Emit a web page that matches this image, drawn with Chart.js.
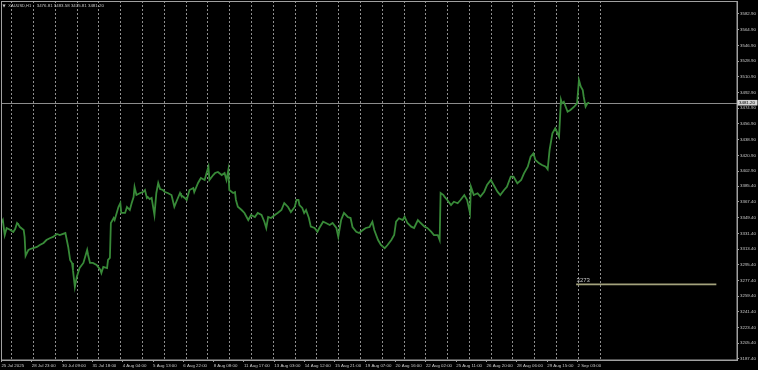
<!DOCTYPE html>
<html><head><meta charset="utf-8">
<script src="https://cdn.jsdelivr.net/npm/chart.js@4.4.1/dist/chart.umd.min.js"></script>
<style>html,body{margin:0;padding:0;background:#000;overflow:hidden}canvas{display:block}</style>
</head><body>
<canvas id="c" width="758" height="370"></canvas>
<script>
// ---- data ----
const symbolTitle = 'XAUUSD,H1';
const lastBarOHLC = ['3476.81', '3483.58', '3475.81', '3481.20'];
const timeLabels = ['25 Jul 2025','28 Jul 23:00','30 Jul 09:00','31 Jul 18:00','4 Aug 04:00','5 Aug 13:00','6 Aug 22:00','8 Aug 08:00','11 Aug 17:00','13 Aug 03:00','14 Aug 12:00','15 Aug 21:00','19 Aug 07:00','20 Aug 16:00','22 Aug 02:00','25 Aug 11:00','26 Aug 20:00','28 Aug 06:00','29 Aug 15:00','2 Sep 03:00'];
const priceTicks = [3582.90,3564.90,3546.90,3528.90,3510.90,3492.90,3474.90,3456.90,3438.90,3420.90,3402.90,3385.40,3367.40,3349.40,3331.40,3313.40,3295.40,3277.40,3259.40,3241.40,3223.40,3205.40,3187.40];
// hourly bar index (from first bar) of each sampled close
const barIndex = [
  0,2,3,5,7,11,14,16,18,19, 21,25,26,27,30,32,35,39,42,46, 49,53,56,60,63,69,72,74,76,77,
  79,81,84,88,92,93,95,98,102,106, 107,109,113,114,116,117,120,121,125,127, 128,132,134,137,139,141,142,144,148,151,
  153,155,156,
  158,160,163,165,167,169,172,174,177,181, 184,186,190,191,195,197,200,204,205,209,
  212,216,218,220,221,225,227,230,234,237, 239,241,242,246,248,249,251,255,258,262,
  265,269,272,276,279,281,283,286,290,293, 297,300,304,307,311,313,
  315,316,319,321,323,326,328,332,335,337, 341,344,348,351,355,357,360,363,367,370,
  372,376,379,383,386,390,393,395,399,402, 406,409,413,416,418,421,425,427,430,434,
  437,441,444,448,451,455,458,462,464,465, 468,
  469,472,476,479,483,486,490,493,496,497, 500,504,507,511,514,518,521,525,528,532,
  535,539,542,546,550,553,557,560,563,565, 569,572,576,578,580,583,586,590,592,593,
  595,599,602,606,609,611,613,615,616,618, 620,622
];
const closePrices = [
  3343.3,3344.5,3346.7,3329.5,3337.6,3335.3,3333.0,3336.4,3343.3,3342.1, 3338.7,3335.3,3327.3,3305.5,3312.4,3313.5,3314.6,3315.8,3318.1,3320.4, 3323.8,3326.1,3327.3,3330.7,3329.5,3331.8,3315.8,3300.9,3297.5,3289.4,
  3269.9,3281.4,3291.7,3297.5,3312.4,3306.6,3297.5,3297.5,3295.2,3289.4, 3286.0,3292.9,3291.7,3300.9,3303.2,3343.3,3349.0,3346.7,3361.7,3366.2, 3354.8,3354.8,3361.7,3358.2,3366.2,3373.1,3384.6,3375.4,3377.7,3378.8,
  3381.1,3372.0,3373.1,
  3370.8,3372.0,3352.5,3377.7,3389.2,3382.3,3381.1,3378.8,3377.7,3375.4, 3362.0,3367.4,3377.7,3375.4,3372.0,3369.7,3381.1,3383.4,3378.8,3389.2,
  3394.9,3392.6,3400.6,3407.9,3392.6,3398.3,3400.6,3401.8,3398.3,3400.6, 3392.6,3404.1,3381.1,3377.7,3378.8,3369.7,3362.0,3358.2,3354.8,3346.7,
  3352.5,3350.2,3354.8,3352.5,3344.8,3337.6,3350.2,3349.0,3352.5,3354.8, 3358.2,3366.2,3361.7,3355.9,3361.7,3369.7,
  3369.7,3363.9,3360.5,3354.8,3358.2,3349.0,3339.1,3337.6,3333.3,3337.6, 3344.8,3343.3,3341.0,3343.3,3337.6,3327.6,3346.7,3354.8,3350.2,3349.0,
  3338.7,3333.3,3331.8,3335.3,3337.6,3338.7,3344.8,3335.3,3323.8,3318.1, 3314.3,3318.1,3323.8,3329.5,3344.8,3348.7,3346.7,3350.5,3343.3,3339.1,
  3337.6,3346.7,3343.3,3339.1,3337.6,3333.3,3329.5,3329.5,3323.8,3377.7, 3375.4,
  3373.5,3369.7,3363.9,3367.7,3365.9,3369.7,3375.4,3369.7,3354.8,3384.9, 3375.4,3377.4,3373.5,3379.2,3386.9,3392.6,3386.9,3379.2,3375.4,3381.1,
  3384.9,3396.4,3396.4,3388.8,3392.6,3400.3,3407.9,3419.3,3423.2,3415.5, 3411.7,3409.8,3407.9,3404.9,3427.0,3446.1,3451.9,3442.2,3484.3,3480.5,
  3482.4,3470.9,3472.9,3476.6,3480.5,3507.2,3499.6,3495.8,3488.1,3476.6, 3480.5,3481.2
];
const currentPrice = 3481.20;
const levelPrice = 3273;
const levelText = '3273';
const levelBars = [608, 756];

// ---- layout/style ----
const FONT = "'Liberation Sans', Arial, sans-serif";
const TXT = '#c8c8c8';
const AXIS = '#a0a0a0';
const BARS_PER_LABEL = 32, LABEL_OFFSET = 1.5;
const BARS_PER_GRID = 23, GRID_OFFSET = 12.4, GRID_COUNT = 28;
const X_MIN = 1.06, X_MAX = 777.8;
const Y_MIN = 3186.25, Y_MAX = 3597.8;

const labelBars = timeLabels.map((_, i) => i * BARS_PER_LABEL + LABEL_OFFSET);
const gridBars = Array.from({length: GRID_COUNT}, (_, k) => GRID_OFFSET + k * BARS_PER_GRID);
const series = barIndex.map((b, i) => ({x: b, y: closePrices[i]}));

const overlay = {
  id: 'overlay',
  beforeDatasetsDraw(chart) {
    const {ctx, chartArea: a, scales: {y}} = chart;
    const py = Math.round(y.getPixelForValue(currentPrice)) + 0.5;
    ctx.save();
    ctx.strokeStyle = '#8c8c8c'; ctx.lineWidth = 1;
    ctx.beginPath(); ctx.moveTo(a.left, py); ctx.lineTo(a.right, py); ctx.stroke();
    ctx.restore();
  },
  afterDraw(chart) {
    const {ctx, chartArea: a, scales: {x, y}} = chart;
    ctx.save();
    // frame
    ctx.strokeStyle = AXIS; ctx.lineWidth = 1;
    ctx.strokeRect(Math.round(a.left) + 0.5, Math.round(a.top) + 0.5, Math.round(a.right - a.left) - 0.5, Math.round(a.bottom - a.top) - 0.5);
    // title
    ctx.fillStyle = TXT; ctx.textBaseline = 'middle'; ctx.textAlign = 'left';
    ctx.font = "4px 'DejaVu Sans', sans-serif";
    ctx.fillText('\u25BC', 2.5, 5.8);
    ctx.font = '4px ' + FONT;
    ctx.fillText(symbolTitle, 8.3, 5.8);
    ctx.font = '4.4px ' + FONT;
    ctx.fillText(lastBarOHLC.join(' '), 36.7, 5.8);
    // current price tag
    const py = y.getPixelForValue(currentPrice);
    ctx.fillStyle = '#d4d4d4';
    ctx.fillRect(a.right + 0.5, py - 2.8, 20, 5.6);
    ctx.fillStyle = '#000';
    ctx.font = '4.4px ' + FONT;
    ctx.fillText(currentPrice.toFixed(2), a.right + 2, py + 0.1);
    // level label
    ctx.fillStyle = TXT; ctx.textBaseline = 'alphabetic';
    ctx.font = '6px ' + FONT;
    ctx.fillText(levelText, x.getPixelForValue(levelBars[0]) + 0.5, y.getPixelForValue(levelPrice) - 2.2);
    ctx.restore();
  }
};

new Chart(document.getElementById('c'), {
  type: 'line',
  data: {
    datasets: [
      {data: series, borderColor: '#388a38', borderWidth: 1.8, pointRadius: 0, tension: 0, fill: false, borderJoinStyle: 'miter'},
      {data: levelBars.map(b => ({x: b, y: levelPrice})), borderColor: '#a3a27c', borderWidth: 1.8, pointRadius: 0, fill: false}
    ]
  },
  options: {
    responsive: false, animation: false, devicePixelRatio: 1,
    layout: {padding: {top: 1, left: 1, right: 0, bottom: 0}},
    plugins: {legend: {display: false}, tooltip: {enabled: false}},
    scales: {
      x: {
        type: 'linear', position: 'bottom', min: X_MIN, max: X_MAX,
        afterBuildTicks: s => { s.ticks = labelBars.map(v => ({value: v})); },
        afterFit: s => { s.height = 10; s.paddingLeft = 0; s.paddingRight = 0; },
        ticks: {autoSkip: false, maxRotation: 0, minRotation: 0, align: 'start', padding: 1,
                color: TXT, font: {family: FONT, size: 4.4},
                callback: (v, i) => timeLabels[i]},
        grid: {drawOnChartArea: false, drawTicks: true, tickLength: 2, color: AXIS},
        border: {display: true, color: AXIS}
      },
      xg: {
        type: 'linear', position: 'bottom', min: X_MIN, max: X_MAX,
        afterBuildTicks: s => { s.ticks = gridBars.map(v => ({value: v})); },
        afterFit: s => { s.height = 0; s.paddingLeft = 0; s.paddingRight = 0; },
        ticks: {display: false},
        grid: {drawOnChartArea: true, drawTicks: false, color: '#8e8e8e', lineWidth: 1},
        border: {display: false, dash: [2, 2]}
      },
      y: {
        type: 'linear', position: 'right', min: Y_MIN, max: Y_MAX,
        afterBuildTicks: s => { s.ticks = priceTicks.map(v => ({value: v})); },
        afterFit: s => { s.width = 21; s.paddingTop = 0; s.paddingBottom = 0; },
        ticks: {autoSkip: false, padding: 1, color: TXT, font: {family: FONT, size: 4.4},
                callback: v => Number(v).toFixed(2)},
        grid: {drawOnChartArea: false, drawTicks: true, tickLength: 2, color: AXIS},
        border: {display: true, color: AXIS}
      }
    }
  },
  plugins: [overlay]
});
</script>
</body></html>
